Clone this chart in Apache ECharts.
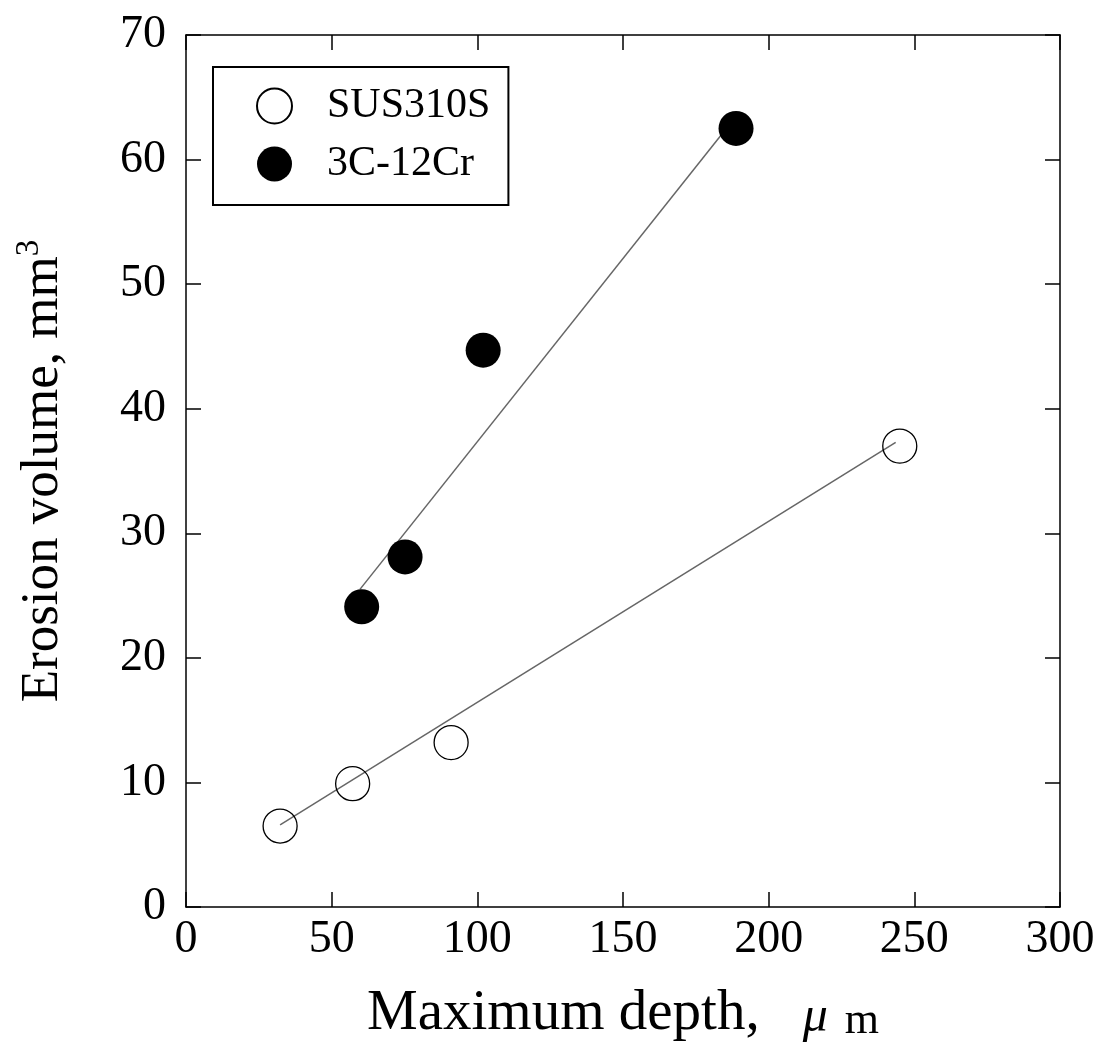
<!DOCTYPE html>
<html>
<head>
<meta charset="utf-8">
<title>Erosion volume vs maximum depth</title>
<script src="https://cdn.jsdelivr.net/npm/echarts@6/dist/echarts.min.js"></script>
<style>
  html, body { margin: 0; padding: 0; background: #fff; }
  #chart { width: 1105px; height: 1048px; }
</style>
</head>
<body>
<div id="chart"></div>
<script>
// Measured points: maximum depth (μm) vs erosion volume (mm³)
const susDepth = [32.3, 57.2, 91.0, 245.0];
const susVolume = [6.5, 9.9, 13.2, 37.0];
const crDepth = [60.3, 75.2, 102.0, 188.8];
const crVolume = [24.1, 28.1, 44.7, 62.5];

// End points of the fitted straight lines
const susFitDepth = [32.3, 243.6];
const susFitVolume = [6.6, 37.3];
const crFitDepth = [59.7, 186.5];
const crFitVolume = [25.5, 62.8];

const xTicks = [0, 50, 100, 150, 200, 250, 300];
const yTicks = [0, 10, 20, 30, 40, 50, 60, 70];

const seriesNames = ['SUS310S', '3C-12Cr'];

const pairs = (xs, ys) => xs.map((x, i) => [x, ys[i]]);

const FONT = '"Liberation Serif", "Times New Roman", serif';

const chart = echarts.init(document.getElementById('chart'), null, { renderer: 'canvas' });

const tickCommon = {
  show: true,
  inside: true,
  length: 15,
  lineStyle: { color: '#000', width: 1.5 }
};
const lineCommon = { show: true, onZero: false, lineStyle: { color: '#000', width: 1.5 } };

chart.setOption({
  backgroundColor: '#fff',
  animation: false,
  grid: {
    left: 186, top: 35, right: 45, bottom: 141,
    containLabel: false,
    outerBoundsMode: 'none'
  },
  legend: {
    data: seriesNames,
    orient: 'vertical',
    left: 213,
    top: 67,
    padding: [18, 18, 20, 43],
    itemWidth: 35,
    itemHeight: 35,
    itemGap: 16,
    backgroundColor: '#fff',
    borderColor: '#000',
    borderWidth: 2,
    borderRadius: 0,
    textStyle: {
      fontFamily: FONT,
      fontSize: 42,
      color: '#000',
      lineHeight: 35,
      padding: [0, 0, 0, 30]
    }
  },
  xAxis: [
    {
      type: 'value',
      min: xTicks[0],
      max: xTicks[xTicks.length - 1],
      interval: 50,
      position: 'bottom',
      name: '{a|Maximum depth,}{mu|μ}{m|m}',
      nameLocation: 'middle',
      nameGap: 72,
      nameTextStyle: {
        rich: {
          a: { fontFamily: FONT, fontSize: 57, color: '#000', lineHeight: 64, verticalAlign: 'bottom' },
          mu: { fontFamily: FONT, fontSize: 50, fontStyle: 'italic', color: '#000', lineHeight: 59, verticalAlign: 'bottom', padding: [0, 0, 0, 43] },
          m: { fontFamily: FONT, fontSize: 44, color: '#000', lineHeight: 55, verticalAlign: 'bottom', padding: [0, 0, 0, 17] }
        }
      },
      axisLine: lineCommon,
      axisTick: tickCommon,
      splitLine: { show: false },
      axisLabel: {
        margin: 10,
        fontFamily: FONT,
        fontSize: 46,
        color: '#000'
      }
    },
    {
      type: 'value',
      min: xTicks[0],
      max: xTicks[xTicks.length - 1],
      interval: 50,
      position: 'top',
      axisLine: lineCommon,
      axisTick: tickCommon,
      axisLabel: { show: false },
      splitLine: { show: false }
    }
  ],
  yAxis: [
    {
      type: 'value',
      min: yTicks[0],
      max: yTicks[yTicks.length - 1],
      interval: 10,
      position: 'left',
      name: '{a|Erosion volume, mm}{sup|3}',
      nameLocation: 'middle',
      nameRotate: 90,
      nameGap: 113,
      nameTextStyle: {
        rich: {
          a: { fontFamily: FONT, fontSize: 53, color: '#000', lineHeight: 60 },
          sup: { fontFamily: FONT, fontSize: 33, color: '#000', verticalAlign: 'top', lineHeight: 33 }
        }
      },
      axisLine: lineCommon,
      axisTick: tickCommon,
      splitLine: { show: false },
      axisLabel: {
        margin: 20,
        fontFamily: FONT,
        fontSize: 46,
        color: '#000'
      }
    },
    {
      type: 'value',
      min: yTicks[0],
      max: yTicks[yTicks.length - 1],
      interval: 10,
      position: 'right',
      axisLine: lineCommon,
      axisTick: tickCommon,
      axisLabel: { show: false },
      splitLine: { show: false }
    }
  ],
  series: [
    {
      name: 'fit-sus',
      type: 'line',
      data: pairs(susFitDepth, susFitVolume),
      showSymbol: false,
      symbol: 'none',
      lineStyle: { color: '#666', width: 1.5 },
      z: 2,
      silent: true
    },
    {
      name: 'fit-cr',
      type: 'line',
      data: pairs(crFitDepth, crFitVolume),
      showSymbol: false,
      symbol: 'none',
      lineStyle: { color: '#666', width: 1.5 },
      z: 2,
      silent: true
    },
    {
      name: seriesNames[0],
      type: 'scatter',
      data: pairs(susDepth, susVolume),
      symbol: 'circle',
      symbolSize: 34,
      itemStyle: { color: 'rgba(255,255,255,0)', borderColor: '#000', borderWidth: 1.3, opacity: 1 },
      z: 3
    },
    {
      name: seriesNames[1],
      type: 'scatter',
      data: pairs(crDepth, crVolume),
      symbol: 'circle',
      symbolSize: 35,
      itemStyle: { color: '#000', borderColor: '#000', borderWidth: 0, opacity: 1 },
      z: 4
    }
  ]
});
</script>
</body>
</html>
